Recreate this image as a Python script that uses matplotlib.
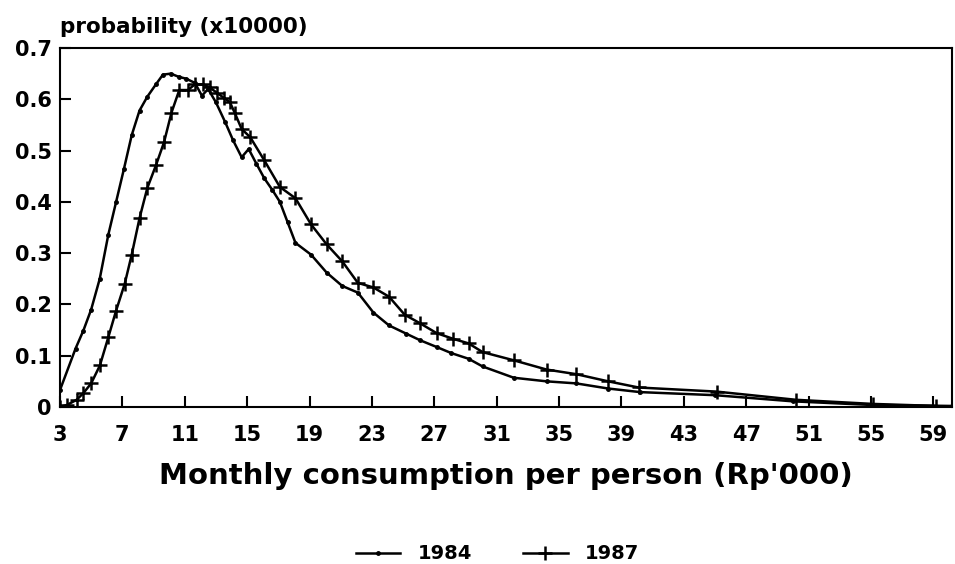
import numpy as np
import matplotlib.pyplot as plt
from matplotlib.lines import Line2D

## data
x84 = [3, 4.0, 4.5, 5.0, 5.55, 6.1, 6.6, 7.1, 7.6, 8.1, 8.6, 9.15, 9.6, 10.1, 10.6,
       11.1, 11.65, 12.1, 12.5, 13.0, 13.6, 14.1, 14.65, 15.1, 15.6, 16.1, 16.6,
       17.1, 17.6, 18.1, 19.1, 20.1, 21.1, 22.1, 23.1, 24.1, 25.2, 26.1, 27.15,
       28.1, 29.2, 30.1, 32.1, 34.2, 36.1, 38.15, 40.2, 45.0, 50.0, 55.0, 60.2]
y84 = [0.033, 0.114, 0.149, 0.19, 0.25, 0.336, 0.40, 0.464, 0.53, 0.578, 0.605,
       0.629, 0.648, 0.65, 0.644, 0.64, 0.632, 0.607, 0.62, 0.594, 0.555, 0.52,
       0.487, 0.503, 0.474, 0.446, 0.424, 0.40, 0.36, 0.32, 0.297, 0.262, 0.236,
       0.223, 0.184, 0.159, 0.143, 0.13, 0.117, 0.105, 0.094, 0.079, 0.057, 0.05,
       0.046, 0.036, 0.029, 0.023, 0.011, 0.004, 0.002]

x87 = [3, 3.45, 4.07, 4.5, 5.0, 5.56, 6.1, 6.6, 7.15, 7.6, 8.1, 8.6, 9.15, 9.67,
       10.15, 10.65, 11.2, 11.65, 12.15, 12.6, 13.05, 13.5, 13.9, 14.2, 14.65,
       15.2, 16.1, 17.1, 18.1, 19.1, 20.1, 21.1, 22.1, 23.1, 24.1, 25.1, 26.1,
       27.15, 28.2, 29.2, 30.1, 32.1, 34.2, 36.1, 38.15, 40.1, 45.1, 50.2, 55.1,
       59.2, 60.2]
y87 = [0.0, 0.004, 0.014, 0.027, 0.046, 0.081, 0.136, 0.188, 0.24, 0.297, 0.368,
       0.427, 0.471, 0.516, 0.574, 0.618, 0.618, 0.629, 0.629, 0.623, 0.613, 0.603,
       0.594, 0.574, 0.542, 0.526, 0.481, 0.429, 0.407, 0.356, 0.317, 0.284, 0.242,
       0.233, 0.215, 0.18, 0.163, 0.144, 0.133, 0.124, 0.107, 0.091, 0.073, 0.064,
       0.05, 0.038, 0.03, 0.014, 0.006, 0.002, 0.002]

xticks = np.arange(3, 60, 4)
yticks = [0, 0.1, 0.2, 0.3, 0.4, 0.5, 0.6, 0.7]
ylabels = ['0', '0.1', '0.2', '0.3', '0.4', '0.5', '0.6', '0.7']

plt.rcParams['font.family'] = ['DejaVu Sans']
plt.rcParams['font.weight'] = 'bold'

fig = plt.figure(figsize=(9.55, 5.64), dpi=100)
ax = fig.add_axes([0.0628, 0.2784, 0.9341, 0.6365])

ax.plot(x84, y84, color='black', lw=1.8, marker='o', ms=2.5)
ax.plot(x87[:-1], y87[:-1], color='black', lw=1.8, marker='+', ms=10, mew=1.8)
ax.plot(x87[-2:], y87[-2:], color='black', lw=1.8)

ax.set_xlim(3, 60.2)
ax.set_ylim(0, 0.7)
ax.set_xticks(xticks)
ax.set_yticks(yticks)
ax.set_yticklabels(ylabels)
ax.tick_params(axis='both', direction='in', length=8, width=1.5, labelsize=15)
ax.tick_params(axis='x', pad=13)
ax.tick_params(axis='y', pad=6)
for s in ax.spines.values():
    s.set_linewidth(1.5)

ax.set_xlabel("Monthly consumption per person (Rp'000)", fontsize=21,
              fontweight='bold', labelpad=12)
fig.text(0.0628, 1 - 27 / 564, 'probability (x10000)', fontsize=15.5,
         fontweight='bold', ha='left', va='center')

handles = [Line2D([], [], color='black', lw=1.8, marker='o', ms=2.5),
           Line2D([], [], color='black', lw=1.8, marker='+', ms=10, mew=1.8)]
fig.legend(handles, ['1984', '1987'], loc='lower center', ncol=2,
           frameon=False, fontsize=14, handlelength=2.3, handletextpad=0.9,
           columnspacing=2.6, bbox_to_anchor=(0.521, -0.03))

fig.savefig('out.png', dpi=100)
